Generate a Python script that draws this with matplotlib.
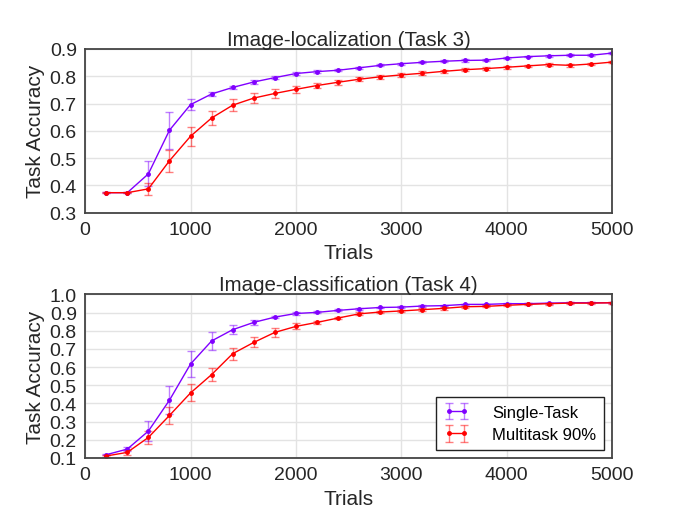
import matplotlib
matplotlib.use("Agg")
import matplotlib.pyplot as plt

trials = [200, 400, 600, 800, 1000, 1200, 1400, 1600, 1800, 2000, 2200, 2400, 2600,
          2800, 3000, 3200, 3400, 3600, 3800, 4000, 4200, 4400, 4600, 4800, 5000]

# Task 3: Image-localization
loc_single = [0.373, 0.373, 0.442, 0.602, 0.696, 0.735, 0.759, 0.779, 0.795, 0.810, 0.817, 0.822, 0.831,
              0.840, 0.846, 0.851, 0.855, 0.858, 0.859, 0.867, 0.872, 0.875, 0.877, 0.877, 0.885]
loc_single_err = [0.002, 0.002, 0.046, 0.067, 0.020, 0.009, 0.007, 0.006, 0.005, 0.005, 0.005, 0.004, 0.004,
                  0.004, 0.004, 0.004, 0.004, 0.004, 0.003, 0.003, 0.003, 0.003, 0.003, 0.003, 0.003]
loc_multi = [0.373, 0.373, 0.387, 0.490, 0.580, 0.647, 0.694, 0.720, 0.737, 0.752, 0.766, 0.778, 0.789,
             0.798, 0.805, 0.811, 0.818, 0.824, 0.828, 0.833, 0.838, 0.843, 0.840, 0.845, 0.852]
loc_multi_err = [0.002, 0.002, 0.021, 0.041, 0.034, 0.027, 0.021, 0.019, 0.015, 0.013, 0.010, 0.009, 0.008,
                 0.008, 0.007, 0.007, 0.006, 0.006, 0.005, 0.005, 0.005, 0.005, 0.005, 0.005, 0.005]

# Task 4: Image-classification
cls_single = [0.118, 0.149, 0.248, 0.418, 0.617, 0.744, 0.806, 0.846, 0.875, 0.895, 0.901, 0.912, 0.921,
              0.928, 0.930, 0.936, 0.938, 0.945, 0.945, 0.949, 0.949, 0.952, 0.954, 0.954, 0.954]
cls_single_err = [0.004, 0.011, 0.057, 0.076, 0.070, 0.050, 0.026, 0.014, 0.007, 0.006, 0.005, 0.005, 0.005,
                  0.004, 0.004, 0.004, 0.004, 0.004, 0.004, 0.004, 0.004, 0.003, 0.003, 0.003, 0.003]
cls_multi = [0.111, 0.131, 0.213, 0.334, 0.458, 0.559, 0.674, 0.736, 0.791, 0.824, 0.846, 0.870, 0.893,
             0.903, 0.909, 0.916, 0.923, 0.932, 0.934, 0.940, 0.945, 0.949, 0.952, 0.952, 0.954]
cls_multi_err = [0.004, 0.013, 0.034, 0.049, 0.047, 0.038, 0.033, 0.027, 0.024, 0.016, 0.010, 0.008, 0.008,
                 0.008, 0.007, 0.007, 0.007, 0.006, 0.006, 0.006, 0.006, 0.005, 0.005, 0.005, 0.005]

series_labels = ["Single-Task", "Multitask 90%"]
colors = ["#8000ff", "#ff0000"]

plt.rcParams['font.family'] = ['Liberation Sans', 'DejaVu Sans']

fig, axes = plt.subplots(2, 1, figsize=(6.81, 5.10), dpi=100)
fig.subplots_adjust(left=0.125, right=0.899, top=0.902, bottom=0.10, hspace=0.5)

panels = [
    (axes[0], "Image-localization (Task 3)", [(loc_single, loc_single_err), (loc_multi, loc_multi_err)],
     (0.3, 0.9), [0.3, 0.4, 0.5, 0.6, 0.7, 0.8, 0.9]),
    (axes[1], "Image-classification (Task 4)", [(cls_single, cls_single_err), (cls_multi, cls_multi_err)],
     (0.1, 1.0), [0.1, 0.2, 0.3, 0.4, 0.5, 0.6, 0.7, 0.8, 0.9, 1.0]),
]

for ax, title, data, ylim, yticks in panels:
    for (vals, errs), col, lab in zip(data, colors, series_labels):
        eb = ax.errorbar(trials, vals, yerr=errs, color=col, marker='o', ms=2.5, lw=1.0,
                         elinewidth=1.0, capsize=3, capthick=1.0, ecolor=col, label=lab)
        for c in eb[1]:
            c.set_alpha(0.5)
        for c in eb[2]:
            c.set_alpha(0.5)
    ax.set_xlim(0, 5000)
    ax.set_ylim(*ylim)
    ax.set_xticks([0, 1000, 2000, 3000, 4000, 5000])
    ax.set_yticks(yticks)
    ax.set_yticklabels([f"{t:.1f}" for t in yticks])
    ax.grid(True, color="#e3e3e3", lw=1.0)
    ax.set_axisbelow(True)
    for s in ax.spines.values():
        s.set_color("#444444")
        s.set_linewidth(1.3)
    ax.tick_params(axis='both', length=0, labelsize=14, colors="#262626")
    ax.tick_params(axis='x', pad=6)
    ax.tick_params(axis='y', pad=6)
    ax.set_title(title, fontsize=14.8, color="#262626", pad=3)
    ax.set_xlabel("Trials", fontsize=15, color="#262626", labelpad=4)
    ax.set_ylabel("Task Accuracy", fontsize=15, color="#262626", labelpad=3)

leg = axes[1].legend(loc='lower right', numpoints=2, fontsize=12, fancybox=False,
                     framealpha=1, edgecolor="#222222", borderpad=0.45, handlelength=1.5,
                     handletextpad=1.4, labelspacing=0.45, borderaxespad=0.5)
leg.get_frame().set_linewidth(1.0)

fig.savefig("out.png", dpi=100)
